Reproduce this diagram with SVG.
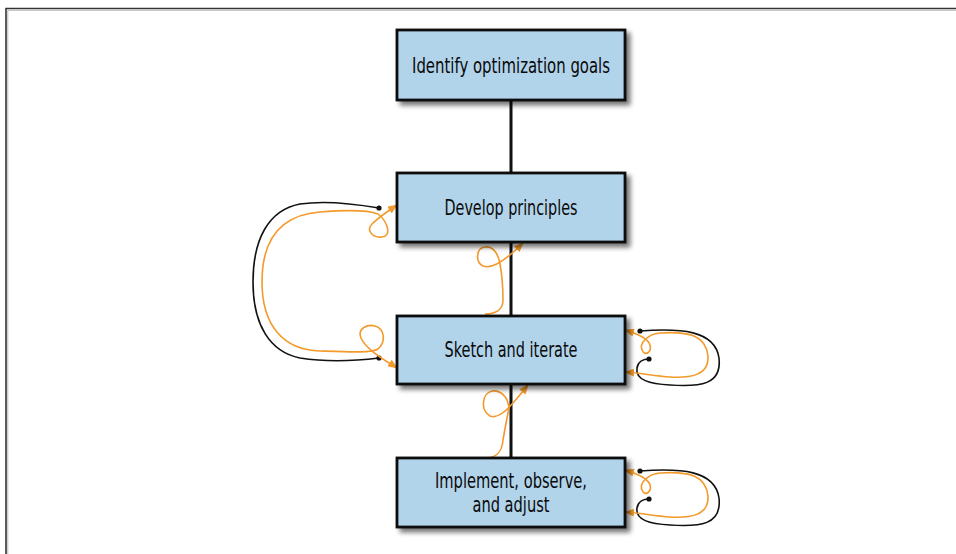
<svg xmlns="http://www.w3.org/2000/svg" width="956" height="554" viewBox="0 0 956 554">
<defs>
<style>
.box{fill:#b2d4ea;stroke:#111;stroke-width:2.8;filter:url(#sh)}
.lbl{font-family:"Liberation Sans Narrow","DejaVu Sans Condensed","Liberation Sans",sans-serif;font-size:22px;fill:#0a0a0a;text-anchor:middle}
.blk{fill:none;stroke:#111;stroke-width:1.6}
.org{fill:none;stroke:#f39a2a;stroke-width:1.6}
.dot{fill:#111}
</style>
<filter id="sh" x="-10%" y="-20%" width="125%" height="150%">
<feGaussianBlur in="SourceAlpha" stdDeviation="2.5"/>
<feOffset dx="4" dy="4" result="b"/>
<feComponentTransfer><feFuncA type="linear" slope="0.55"/></feComponentTransfer>
<feMerge><feMergeNode/><feMergeNode in="SourceGraphic"/></feMerge>
</filter>
<marker id="ah" markerWidth="10" markerHeight="8" refX="9" refY="4" orient="auto-start-reverse" markerUnits="userSpaceOnUse">
<path d="M0,0 L10,4 L0,8 Z" fill="#f39a2a"/>
</marker>
</defs>
<rect width="956" height="554" fill="#fff"/>
<path d="M6,554 V8.5 H956" fill="none" stroke="#333" stroke-width="1.6"/>
<path d="M7.8,554 V10.3 H956" fill="none" stroke="#bbb" stroke-width="1"/>

<g id="connectors">
<line x1="511" y1="100" x2="511" y2="458" stroke="#111" stroke-width="3"/>
<path class="blk" d="M379,208 C350,203 320,201 300,204 C268,210 253,240 253,282 C253,325 270,352 300,358 C325,362 355,361 379,358"/>
<circle class="dot" cx="379" cy="208" r="2.6"/>
<circle class="dot" cx="379" cy="358" r="2.6"/>
<path class="org" marker-start="url(#ah)" marker-end="url(#ah)" d="M397,368 C388,362 366,350 361,338 C357,328 368,324 375,326 C385,329 386,342 378,349 C372,353 350,352 320,351 C283,350 262,325 262,282 C262,240 280,215 320,212 C345,210 368,210 378,214 C388,222 392,236 382,237 C372,238 366,230 372,224 C378,218 388,211 397,205"/>
<path class="org" marker-end="url(#ah)" d="M485,314 C495,314 503,310 503,300 C503,290 502,275 500,264 C498,252 492,246 485,247 C476,248 475,262 483,266 C493,270 508,258 523,243"/>
<path class="org" marker-end="url(#ah)" d="M485,458 C497,458 502,452 503,440 C505,428 507,418 509,408 C508,396 500,390 492,391 C482,393 480,410 490,416 C500,420 512,405 528,385"/>
<g id="selfloop3">
<path class="blk" d="M640,331 C680,328 715,330 719,358 C722,385 700,387 670,385 C650,384 635,380 637,368 C638,362 643,359 649,359"/>
<circle class="dot" cx="640" cy="331" r="2.6"/>
<circle class="dot" cx="649" cy="359" r="2.6"/>
<path class="org" marker-start="url(#ah)" marker-end="url(#ah)" d="M625,330 C635,333 648,338 650,345 C652,352 645,357 642,350 C639,343 648,334 660,333 C690,331 706,336 708,356 C709,376 690,378 670,377 C655,376 640,373 625,372"/>
</g>
<g id="selfloop4" transform="translate(0,140)">
<path class="blk" d="M640,331 C680,328 715,330 719,358 C722,385 700,387 670,385 C650,384 635,380 637,368 C638,362 643,359 649,359"/>
<circle class="dot" cx="640" cy="331" r="2.6"/>
<circle class="dot" cx="649" cy="359" r="2.6"/>
<path class="org" marker-start="url(#ah)" marker-end="url(#ah)" d="M625,330 C635,333 648,338 650,345 C652,352 645,357 642,350 C639,343 648,334 660,333 C690,331 706,336 708,356 C709,376 690,378 670,377 C655,376 640,373 625,372"/>
</g>
</g>

<g id="n1">
<rect class="box" x="397" y="30" width="228" height="70"/>
<text class="lbl" x="511" y="73" textLength="198" lengthAdjust="spacingAndGlyphs">Identify optimization goals</text>
</g>
<g id="n2">
<rect class="box" x="397" y="173" width="228" height="69"/>
<text class="lbl" x="511" y="215" textLength="133" lengthAdjust="spacingAndGlyphs">Develop principles</text>
</g>
<g id="n3">
<rect class="box" x="397" y="316" width="228" height="68"/>
<text class="lbl" x="511" y="357" textLength="133" lengthAdjust="spacingAndGlyphs">Sketch and iterate</text>
</g>
<g id="n4">
<rect class="box" x="397" y="458" width="228" height="69"/>
<text class="lbl" x="511" y="488" textLength="152" lengthAdjust="spacingAndGlyphs">Implement, observe,</text>
<text class="lbl" x="511" y="512" textLength="77" lengthAdjust="spacingAndGlyphs">and adjust</text>
</g>
</svg>
